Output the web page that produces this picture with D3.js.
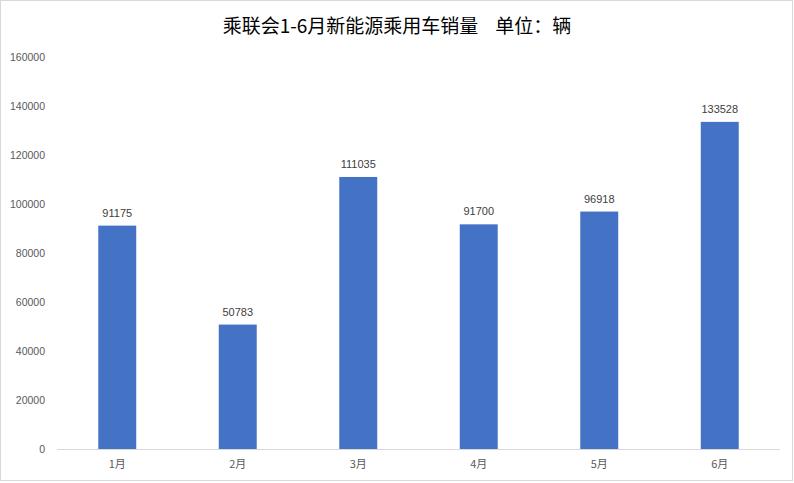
<!DOCTYPE html>
<html>
<head>
<meta charset="utf-8">
<script src="https://cdn.jsdelivr.net/npm/d3@7/dist/d3.min.js"></script>
<style>
  body { margin: 0; background: #fff; }
  svg { display: block; }
</style>
</head>
<body>
<div class="container"></div>
<script>
var months = ['1月', '2月', '3月', '4月', '5月', '6月'];
var sales = [91175, 50783, 111035, 91700, 96918, 133528];
var yTicks = [0, 20000, 40000, 60000, 80000, 100000, 120000, 140000, 160000];
var title = '乘联会1-6月新能源乘用车销量    单位：辆';

var WIDTH = 794, HEIGHT = 483;
var LEFT = 57, RIGHT = 780, TOP = 57, BOTTOM = 449;

var svg = d3.select('.container').append('svg')
    .attr('width', WIDTH)
    .attr('height', HEIGHT);

// outer frame
svg.append('rect')
    .attr('x', 0.5).attr('y', 0.5)
    .attr('width', WIDTH - 2).attr('height', HEIGHT - 3)
    .attr('fill', '#fff')
    .attr('stroke', '#d9d9d9');

var xScale = d3.scaleBand()
    .domain(months)
    .range([LEFT, RIGHT])
    .paddingInner(0.685)
    .paddingOuter(0.3425);

var yScale = d3.scaleLinear()
    .domain([0, 160000])
    .range([BOTTOM, TOP]);

svg.append('text')
    .attr('x', 397).attr('y', 33)
    .attr('text-anchor', 'middle')
    .style('white-space', 'pre')
    .attr('font-family', '"Noto Sans CJK SC", sans-serif')
    .attr('font-size', 19)
    .attr('fill', '#000')
    .text(title);

// y axis labels, no line
var yAxis = d3.axisLeft(yScale).tickValues(yTicks).tickSize(0).tickPadding(12)
    .tickFormat(d3.format('d'));
var yg = svg.append('g').attr('transform', 'translate(' + LEFT + ',0)').call(yAxis);
yg.select('.domain').remove();
yg.selectAll('text')
    .attr('font-family', '"Liberation Sans", Arial, sans-serif')
    .attr('font-size', 10.5)
    .attr('fill', '#595959');

// x axis
var xAxis = d3.axisBottom(xScale).tickSize(0).tickPadding(11);
var xg = svg.append('g').attr('transform', 'translate(0,' + BOTTOM + ')').call(xAxis);
xg.select('.domain').attr('stroke', '#d9d9d9').attr('d', 'M' + LEFT + ',0.5H' + RIGHT);
xg.selectAll('text')
    .attr('font-family', '"Noto Sans CJK SC", sans-serif')
    .attr('font-size', 11)
    .attr('fill', '#595959');

var bars = svg.append('g');
bars.selectAll('rect').data(sales)
    .enter()
    .append('rect')
    .attr('x', function(d, i) { return xScale(months[i]); })
    .attr('y', function(d) { return yScale(d); })
    .attr('width', xScale.bandwidth())
    .attr('height', function(d) { return BOTTOM - yScale(d); })
    .attr('fill', '#4472c4');

bars.selectAll('text').data(sales)
    .enter()
    .append('text')
    .attr('x', function(d, i) { return xScale(months[i]) + xScale.bandwidth() / 2; })
    .attr('y', function(d) { return yScale(d) - 9; })
    .attr('text-anchor', 'middle')
    .attr('font-family', '"Liberation Sans", Arial, sans-serif')
    .attr('font-size', 11)
    .attr('fill', '#404040')
    .text(function(d) { return d; });
</script>
</body>
</html>
